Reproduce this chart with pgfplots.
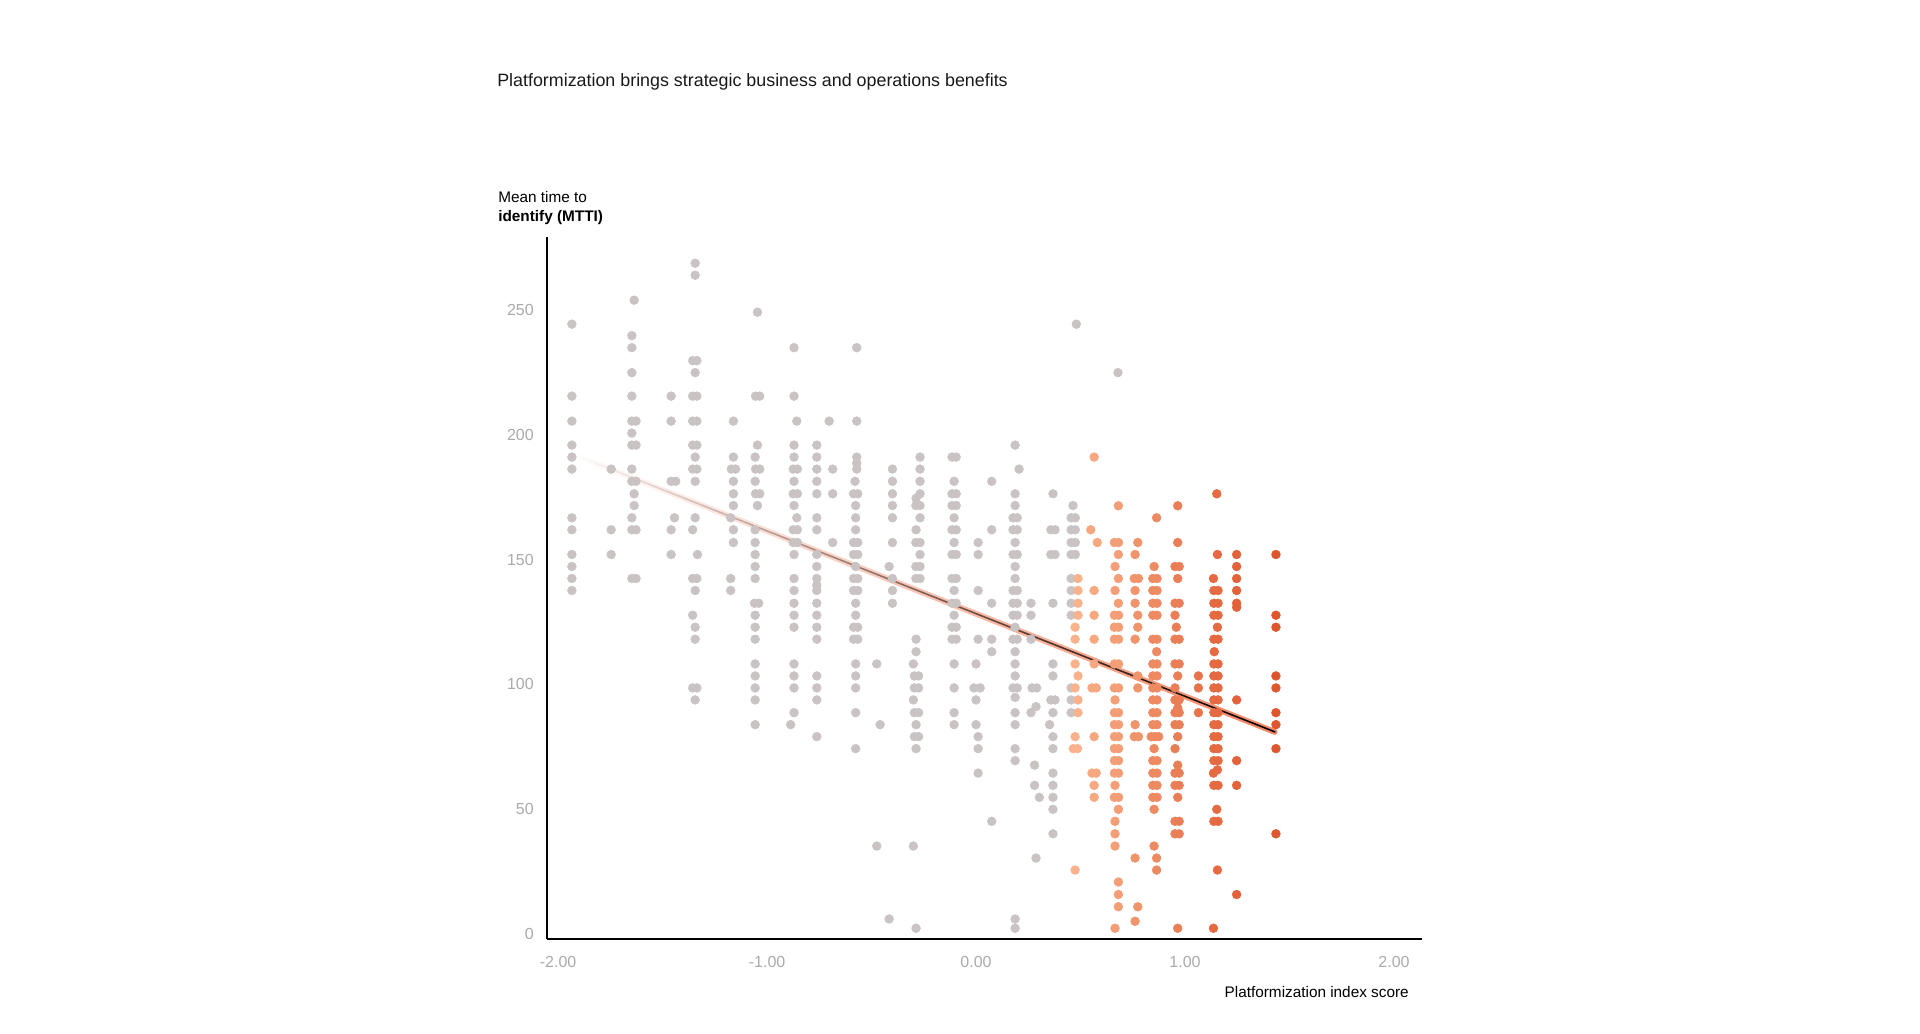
\documentclass[border=0pt]{standalone}
\usepackage{fontspec}
\setmainfont{Liberation Sans}
\usepackage{pgfplots}
\pgfplotsset{compat=1.18}
\usetikzlibrary{fadings}

\definecolor{dotgray}{RGB}{201,195,196}
\definecolor{o1}{RGB}{250,178,140}
\definecolor{o2}{RGB}{247,168,128}
\definecolor{o3}{RGB}{243,158,118}
\definecolor{o4}{RGB}{240,148,108}
\definecolor{o5}{RGB}{237,138,98}
\definecolor{o6}{RGB}{234,126,86}
\definecolor{o7}{RGB}{231,116,76}
\definecolor{o8}{RGB}{229,106,66}
\definecolor{o9}{RGB}{226,98,58}
\definecolor{o10}{RGB}{221,86,46}
\definecolor{ticklab}{RGB}{170,170,170}
\definecolor{fitorange}{RGB}{244,104,62}

\pgfplotsset{dots/.style={only marks, mark=*, mark size=3.3pt, color=#1,
  mark options={draw=none, fill=#1}}}

\begin{document}
\begin{tikzpicture}[x=0.75pt, y=0.75pt]
\path[use as bounding box] (0,0) rectangle (1920,1034);

% titles (pixel positions of the reference, y measured from the bottom)
\node[anchor=base west, inner sep=0pt, text=black!90, font=\fontsize{13.4}{16}\selectfont]
  at (497,947.5) {Platformization brings strategic business and operations benefits};
\node[anchor=base west, inner sep=0pt, font=\fontsize{11.5}{14}\selectfont]
  at (498,831.5) {Mean time to};
\node[anchor=base west, inner sep=0pt, font=\fontsize{11.5}{14}\selectfont\bfseries]
  at (498,812) {identify (MTTI)};
\node[anchor=base east, inner sep=0pt, font=\fontsize{11.5}{14}\selectfont]
  at (1409,36.5) {Platformization index score};

\begin{axis}[
  at={(410.25pt,71.25pt)}, anchor=south west,
  width=656.25pt, height=526.5pt, scale only axis,
  xmin=-2.053, xmax=2.134, ymin=-1.9, ymax=279.1,
  axis lines*=left,
  axis line style={black, line width=1.3pt},
  major tick length=0pt,
  xtick={-2,-1,0,1,2},
  xticklabels={-2.00,-1.00,0.00,1.00,2.00},
  ytick={0,50,100,150,200,250},
  yticklabels={0,50,100,150,200,250},
  tick label style={text=ticklab, font=\fontsize{12}{14}\selectfont, inner sep=0pt},
  xticklabel shift=12.8pt,
  yticklabel shift=9.75pt,
  clip=false,
]

% grey: low platformization
\addplot[dots=dotgray] coordinates {
(-1.934,244.2) (-1.934,215.4) (-1.934,205.4) (-1.934,195.8) (-1.934,191.0) (-1.934,186.2)
(-1.934,166.7) (-1.934,161.9) (-1.934,152.0) (-1.934,147.2) (-1.934,142.4) (-1.934,137.6)
(-1.746,186.2) (-1.746,161.9) (-1.746,152.0)
(-1.636,253.8) (-1.647,239.6) (-1.647,234.8) (-1.647,224.8) (-1.647,215.4) (-1.647,205.4)
(-1.627,205.4) (-1.647,200.6) (-1.647,195.8) (-1.627,195.8) (-1.647,186.2) (-1.647,181.3)
(-1.627,181.3) (-1.636,176.3) (-1.636,171.6) (-1.647,166.7) (-1.647,161.9) (-1.627,161.9)
(-1.647,142.4) (-1.627,142.4)
(-1.459,215.4) (-1.459,205.4) (-1.459,181.3) (-1.437,181.3) (-1.443,166.7) (-1.459,161.9) (-1.459,152.0)
(-1.344,268.6) (-1.344,263.8) (-1.356,229.6) (-1.336,229.6) (-1.344,224.8) (-1.356,215.4)
(-1.336,215.4) (-1.356,205.4) (-1.336,205.4) (-1.356,195.8) (-1.336,195.8) (-1.344,191.0)
(-1.356,186.2) (-1.336,186.2) (-1.344,181.3) (-1.344,166.7) (-1.356,161.9) (-1.333,152.0)
(-1.356,142.4) (-1.336,142.4) (-1.344,137.6) (-1.356,127.7) (-1.344,122.9) (-1.344,118.1)
(-1.356,98.6) (-1.336,98.6) (-1.344,93.8)
(-1.161,205.4) (-1.161,191.0) (-1.171,186.2) (-1.151,186.2) (-1.161,181.3) (-1.161,176.3)
(-1.161,171.6) (-1.174,166.7) (-1.161,161.9) (-1.161,156.8) (-1.174,142.4) (-1.174,137.6)
(-1.046,249.0) (-1.055,215.4) (-1.035,215.4) (-1.046,195.8) (-1.057,191.0) (-1.055,186.2)
(-1.035,186.2) (-1.057,181.3) (-1.055,176.3) (-1.035,176.3) (-1.046,171.6) (-1.057,161.9)
(-1.057,156.8) (-1.057,152.0) (-1.057,147.2) (-1.057,142.4) (-1.060,132.5) (-1.040,132.5)
(-1.057,127.7) (-1.057,122.9) (-1.057,118.1) (-1.057,108.2) (-1.057,103.4) (-1.057,98.6)
(-1.057,93.8) (-1.057,83.9)
(-0.871,234.8) (-0.871,215.4) (-0.858,205.4) (-0.871,195.8) (-0.871,191.0) (-0.875,186.2)
(-0.855,186.2) (-0.871,181.3) (-0.875,176.3) (-0.855,176.3) (-0.871,171.6) (-0.858,166.7)
(-0.875,161.9) (-0.855,161.9) (-0.875,156.8) (-0.855,156.8) (-0.871,152.0) (-0.871,142.4)
(-0.871,137.6) (-0.871,132.5) (-0.871,127.7) (-0.871,122.9) (-0.871,108.2) (-0.871,103.4)
(-0.871,98.6) (-0.871,88.7) (-0.887,83.9)
(-0.762,195.8) (-0.762,191.0) (-0.762,186.2) (-0.762,181.3) (-0.762,176.3) (-0.762,166.7)
(-0.762,161.9) (-0.762,152.0) (-0.762,147.2) (-0.762,142.4) (-0.762,139.6) (-0.762,137.6)
(-0.762,132.5) (-0.762,127.7) (-0.762,122.9) (-0.762,118.1) (-0.762,103.4) (-0.762,98.6)
(-0.762,93.8) (-0.762,79.1)
(-0.703,205.4) (-0.686,186.2) (-0.686,176.3) (-0.686,156.8)
(-0.571,234.8) (-0.571,205.4) (-0.571,191.0) (-0.571,188.5) (-0.571,186.2) (-0.579,181.3)
(-0.586,176.3) (-0.566,176.3) (-0.576,171.6) (-0.576,166.7) (-0.576,161.9) (-0.586,156.8)
(-0.566,156.8) (-0.586,152.0) (-0.566,152.0) (-0.576,147.2) (-0.586,142.4) (-0.566,142.4)
(-0.586,137.6) (-0.566,137.6) (-0.576,132.5) (-0.576,127.7) (-0.586,122.9) (-0.566,122.9)
(-0.586,118.1) (-0.566,118.1) (-0.576,108.2) (-0.576,103.4) (-0.576,98.6) (-0.576,88.7)
(-0.576,74.3)
(-0.400,186.2) (-0.400,181.3) (-0.400,176.3) (-0.400,171.6) (-0.400,166.7) (-0.400,156.8)
(-0.416,147.2) (-0.400,142.4) (-0.400,137.6) (-0.400,132.5) (-0.416,6.1) (-0.475,108.2)
(-0.475,35.3) (-0.459,83.9)
(-0.268,191.0) (-0.268,186.2) (-0.268,181.3) (-0.268,176.3) (-0.287,174.5) (-0.288,171.6)
(-0.268,171.6) (-0.268,166.7) (-0.287,161.9) (-0.288,156.8) (-0.268,156.8) (-0.268,152.0)
(-0.288,147.2) (-0.268,147.2) (-0.288,142.4) (-0.268,142.4) (-0.287,118.1) (-0.287,113.1)
(-0.300,108.2) (-0.295,103.4) (-0.275,103.4) (-0.295,98.6) (-0.275,98.6) (-0.300,93.8)
(-0.295,88.7) (-0.275,88.7) (-0.287,83.9) (-0.295,79.1) (-0.275,79.1) (-0.287,74.3)
(-0.300,35.3) (-0.287,2.4)
(-0.115,191.0) (-0.095,191.0) (-0.105,181.3) (-0.115,176.3) (-0.095,176.3) (-0.115,171.6)
(-0.095,171.6) (-0.105,166.7) (-0.115,161.9) (-0.095,161.9) (-0.105,156.8) (-0.115,152.0)
(-0.095,152.0) (-0.115,142.4) (-0.095,142.4) (-0.105,137.6) (-0.115,132.5) (-0.095,132.5)
(-0.105,127.7) (-0.115,122.9) (-0.095,122.9) (-0.115,118.1) (-0.095,118.1) (-0.105,108.2)
(-0.105,98.6) (-0.105,88.7) (-0.105,83.9)
(0.010,156.8) (0.010,152.0) (0.010,137.6) (0.010,118.1) (0.000,108.2) (-0.010,98.6)
(0.020,98.6) (0.000,93.8) (0.000,83.9) (0.010,79.1) (0.010,74.3) (0.010,64.5)
(0.075,181.3) (0.075,161.9) (0.075,132.5) (0.075,118.1) (0.075,113.1) (0.075,45.2)
(0.187,195.8) (0.206,186.2) (0.187,176.3) (0.187,171.6) (0.177,166.7) (0.197,166.7)
(0.177,161.9) (0.197,161.9) (0.187,156.8) (0.177,152.0) (0.197,152.0) (0.187,147.2)
(0.187,142.4) (0.177,137.6) (0.197,137.6) (0.177,132.5) (0.197,132.5) (0.177,127.7)
(0.197,127.7) (0.187,122.9) (0.177,118.1) (0.197,118.1) (0.187,113.1) (0.187,108.2)
(0.187,103.4) (0.177,98.6) (0.197,98.6) (0.187,94.8) (0.187,88.7) (0.187,83.9)
(0.187,74.3) (0.187,69.5) (0.187,6.1) (0.187,2.4)
(0.263,132.5) (0.263,127.7) (0.263,118.1) (0.268,98.6) (0.290,98.6) (0.287,91.1)
(0.263,88.7) (0.280,67.7) (0.280,59.6) (0.303,54.8) (0.287,30.5)
(0.368,176.3) (0.358,161.9) (0.378,161.9) (0.358,152.0) (0.378,152.0) (0.368,132.5)
(0.368,108.2) (0.368,103.4) (0.358,93.8) (0.378,93.8) (0.368,88.7) (0.352,83.9)
(0.368,79.1) (0.368,74.3) (0.368,64.5) (0.368,59.6) (0.368,54.8) (0.368,50.0) (0.368,40.2)
(0.480,244.2) (0.464,171.6) (0.455,166.7) (0.475,166.7) (0.455,161.9) (0.475,161.9)
(0.455,156.8) (0.475,156.8) (0.455,152.0) (0.475,152.0) (0.455,142.4) (0.455,137.6)
(0.455,132.5) (0.455,127.7) (0.455,98.6) (0.455,93.8) (0.455,88.7)
(0.679,224.8)
};

% orange: shades deepen with the index score
\addplot[dots=o1] coordinates {
(0.488,142.4) (0.488,137.6) (0.488,132.5) (0.488,127.7) (0.474,122.9) (0.474,118.1)
(0.474,108.2) (0.488,103.4) (0.474,98.6) (0.488,93.8) (0.488,88.7) (0.474,79.1)
(0.465,74.3) (0.485,74.3) (0.474,25.7)
};
\addplot[dots=o2] coordinates {
(0.565,191.0) (0.549,161.9) (0.580,156.8) (0.565,137.6) (0.565,127.7) (0.565,118.1)
(0.565,108.2) (0.555,98.6) (0.575,98.6) (0.565,79.1) (0.555,64.5) (0.575,64.5)
(0.565,59.6) (0.565,54.8)
};
\addplot[dots=o3] coordinates {
(0.681,171.5) (0.662,156.8) (0.682,156.8) (0.681,152.0) (0.665,147.2) (0.681,142.4)
(0.665,137.6) (0.681,132.5) (0.662,127.7) (0.682,127.7) (0.662,122.9) (0.682,122.9)
(0.662,118.1) (0.682,118.1) (0.662,108.2) (0.682,108.2) (0.662,98.6) (0.682,98.6)
(0.665,93.8) (0.662,88.7) (0.682,88.7) (0.662,83.9) (0.682,83.9) (0.662,79.1) (0.682,79.1)
(0.662,74.3) (0.682,74.3) (0.662,69.5) (0.682,69.5) (0.662,64.5) (0.682,64.5) (0.665,59.6)
(0.662,54.8) (0.682,54.8) (0.681,50.0) (0.665,45.2) (0.665,40.2) (0.665,35.3) (0.681,20.9)
(0.681,15.9) (0.681,11.0) (0.665,2.4)
};
\addplot[dots=o4] coordinates {
(0.774,156.8) (0.761,152.0) (0.757,142.4) (0.777,142.4) (0.761,137.6) (0.761,132.5)
(0.774,127.7) (0.774,122.9) (0.761,118.1) (0.774,103.4) (0.774,98.6) (0.761,83.9)
(0.757,79.1) (0.777,79.1) (0.761,30.5) (0.774,11.0) (0.761,5.2)
};
\addplot[dots=o5] coordinates {
(0.864,166.7) (0.852,147.2) (0.846,142.4) (0.866,142.4) (0.846,137.6) (0.866,137.6)
(0.846,132.5) (0.866,132.5) (0.846,127.7) (0.866,127.7) (0.846,118.1) (0.866,118.1)
(0.864,113.1) (0.846,108.2) (0.866,108.2) (0.846,103.4) (0.866,103.4) (0.846,98.6)
(0.866,98.6) (0.846,93.8) (0.866,93.8) (0.846,88.7) (0.866,88.7) (0.846,83.9) (0.866,83.9)
(0.838,79.1) (0.856,79.1) (0.874,79.1) (0.852,74.3) (0.846,69.5) (0.866,69.5) (0.846,64.5)
(0.866,64.5) (0.846,59.6) (0.866,59.6) (0.846,54.8) (0.866,54.8) (0.852,50.0) (0.852,35.3)
(0.864,30.5) (0.864,25.7)
};
\addplot[dots=o6] coordinates {
(0.965,171.5) (0.965,156.8) (0.952,147.2) (0.972,147.2) (0.965,142.4) (0.952,132.5)
(0.972,132.5) (0.952,127.7) (0.958,122.9) (0.952,118.1) (0.972,118.1) (0.952,108.2)
(0.972,108.2) (0.965,103.4) (0.952,98.6) (0.952,93.8) (0.972,93.8) (0.965,90.6)
(0.952,88.7) (0.972,88.7) (0.952,83.9) (0.972,83.9) (0.965,79.1) (0.952,74.3) (0.965,67.7)
(0.952,64.5) (0.972,64.5) (0.952,59.6) (0.972,59.6) (0.965,54.8) (0.952,45.2) (0.972,45.2)
(0.952,40.2) (0.972,40.2) (0.965,2.4)
};
\addplot[dots=o7] coordinates {
(1.064,103.4) (1.064,98.6) (1.064,88.7)
};
\addplot[dots=o8] coordinates {
(1.152,176.3) (1.155,152.0) (1.136,142.4) (1.138,137.6) (1.158,137.6) (1.138,132.5)
(1.158,132.5) (1.138,127.7) (1.158,127.7) (1.155,122.9) (1.138,118.1) (1.158,118.1)
(1.140,113.1) (1.138,108.2) (1.158,108.2) (1.138,103.4) (1.158,103.4) (1.138,98.6)
(1.158,98.6) (1.138,93.8) (1.158,93.8) (1.138,88.7) (1.158,88.7) (1.138,83.9) (1.158,83.9)
(1.138,79.1) (1.158,79.1) (1.138,74.3) (1.158,74.3) (1.138,69.5) (1.158,69.5) (1.155,65.8)
(1.136,64.5) (1.138,59.6) (1.158,59.6) (1.152,50.0) (1.138,45.2) (1.158,45.2) (1.155,25.7)
(1.136,2.4)
};
\addplot[dots=o9] coordinates {
(1.247,152.0) (1.247,147.2) (1.247,142.4) (1.247,137.6) (1.247,132.5) (1.247,130.9)
(1.247,93.8) (1.247,69.5) (1.247,59.6) (1.247,15.9)
};
\addplot[dots=o10] coordinates {
(1.435,152.0) (1.435,127.7) (1.435,122.9) (1.435,103.4) (1.435,98.6) (1.435,88.7)
(1.435,83.9) (1.435,74.3) (1.435,40.2)
};

% fitted trend line, fading in from the left
\addplot[draw=fitorange, line width=4.4pt, opacity=0.8, line cap=round, path fading=west]
  coordinates {(-1.93,192.2) (1.43,81.0)};
\addplot[draw=black, line width=1.2pt, line cap=round, path fading=west]
  coordinates {(-1.93,192.2) (1.43,81.0)};

\end{axis}
\end{tikzpicture}
\end{document}
